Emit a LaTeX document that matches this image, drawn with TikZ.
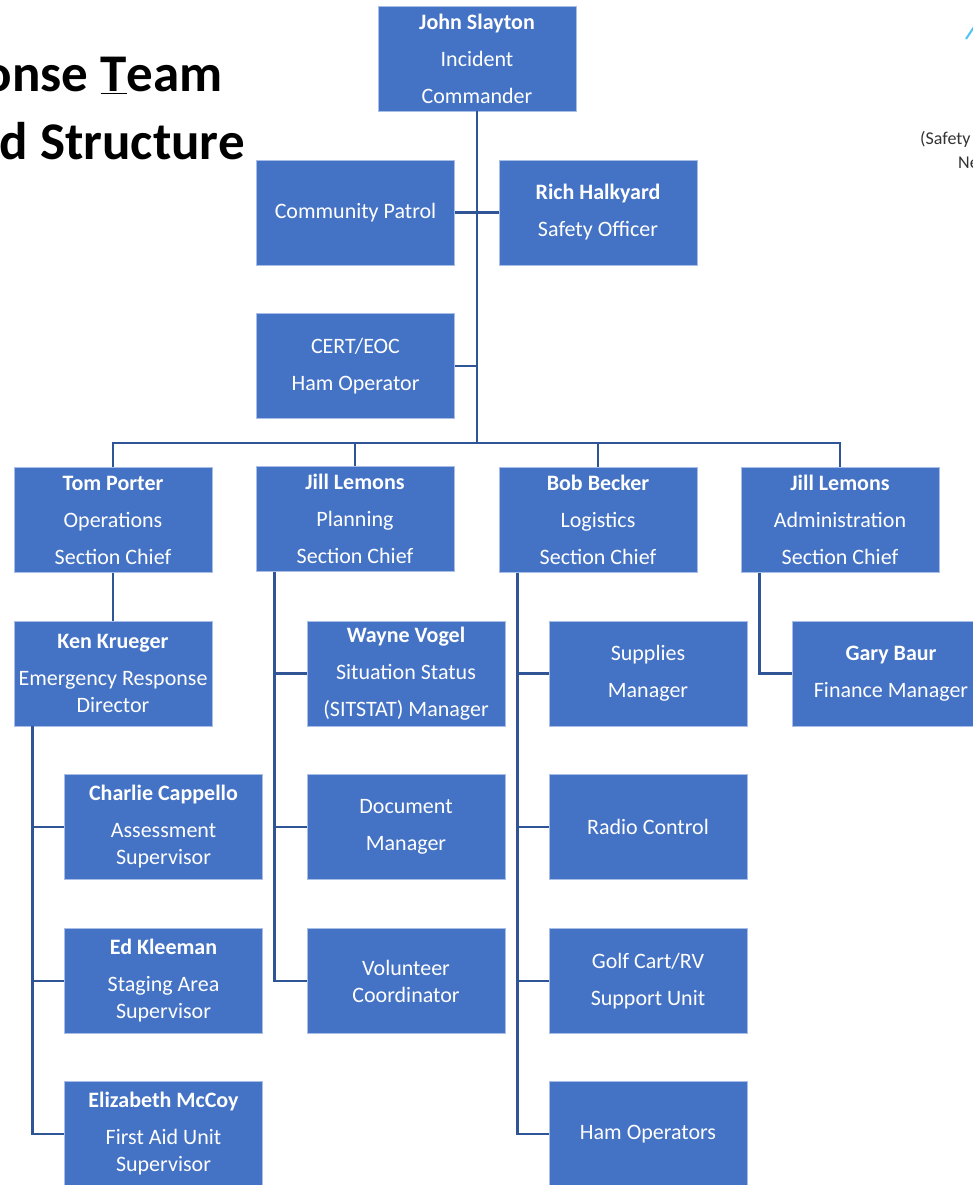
\documentclass[tikz,border=0pt]{standalone}
\usepackage{fontspec}
\setmainfont{Carlito}
\definecolor{boxblue}{HTML}{4472C4}
\definecolor{boxedge}{HTML}{A9BEE6}
\definecolor{linkblue}{HTML}{2F5597}
\definecolor{logocyan}{HTML}{4FC3F0}
\definecolor{graytext}{HTML}{333333}
\newcommand{\boxfont}{\fontsize{22}{27}\selectfont}
\begin{document}
\begin{tikzpicture}[x=1pt,y=-1pt,
  orgbox/.style={fill=boxblue,draw=boxedge,line width=0.8pt,minimum width=198pt,minimum height=105pt,
    inner sep=0pt,align=center,text=white,font=\boxfont},
  link/.style={draw=linkblue,line width=2.4pt},
  titletext/.style={anchor=base east,inner sep=0pt,font=\fontsize{53}{58}\selectfont\bfseries},
  sidetext/.style={anchor=base west,inner sep=0pt,text=graytext,font=\fontsize{18}{20}\selectfont}]
\useasboundingbox (0,0) rectangle (973,1185);
\clip (0,0) rectangle (973,1185);
% title fragments
\node[titletext] (t1) at (223,92) {onse \underline{T}eam};
\node[titletext] (t2) at (245,160) {d Structure};
\node[sidetext] (s1) at (920,145) {(Safety};
\node[sidetext] (s2) at (958,169) {Ne};
\coordinate (lg1) at (966,39);
\coordinate (lg2) at (974,27);
\draw[logocyan,line width=2pt] (lg1) -- (lg2);
% boxes
\node[orgbox] (ic) at (477,58.5) {\textbf{John Slayton}\\[10pt]Incident\\[10pt]Commander};
\node[orgbox] (cp) at (355.5,212.5) {Community Patrol};
\node[orgbox] (so) at (598,212.5) {\textbf{Rich Halkyard}\\[10pt]Safety Officer};
\node[orgbox] (cert) at (355.5,366) {CERT/EOC\\[10pt]Ham Operator};
\node[orgbox] (ops) at (113,520) {\textbf{Tom Porter}\\[10pt]Operations\\[10pt]Section Chief};
\node[orgbox] (plan) at (355,519) {\textbf{Jill Lemons}\\[10pt]Planning\\[10pt]Section Chief};
\node[orgbox] (log) at (598,520) {\textbf{Bob Becker}\\[10pt]Logistics\\[10pt]Section Chief};
\node[orgbox] (adm) at (840,520) {\textbf{Jill Lemons}\\[10pt]Administration\\[10pt]Section Chief};
\node[orgbox] (ken) at (113,673.5) {\textbf{Ken Krueger}\\[10pt]Emergency Response\\Director};
\node[orgbox] (wayne) at (406,673.5) {\textbf{Wayne Vogel}\\[10pt]Situation Status\\[10pt](SITSTAT) Manager};
\node[orgbox] (sup) at (648,673.5) {Supplies\\[10pt]Manager};
\node[orgbox] (gary) at (891,673.5) {\textbf{Gary Baur}\\[10pt]Finance Manager};
\node[orgbox] (charlie) at (163.5,827) {\textbf{Charlie Cappello}\\[10pt]Assessment\\Supervisor};
\node[orgbox] (doc) at (406,827) {Document\\[10pt]Manager};
\node[orgbox] (radio) at (648,827) {Radio Control};
\node[orgbox] (ed) at (163.5,981) {\textbf{Ed Kleeman}\\[10pt]Staging Area\\Supervisor};
\node[orgbox] (vol) at (406,981) {Volunteer\\Coordinator};
\node[orgbox] (golf) at (648,981) {Golf Cart/RV\\[10pt]Support Unit};
\node[orgbox] (liz) at (163.5,1134) {\textbf{Elizabeth McCoy}\\[10pt]First Aid Unit\\Supervisor};
\node[orgbox] (ham) at (648,1134) {Ham Operators};
% connectors
\coordinate (bus) at (477,443);
\draw[link] (ic.south) -- (bus);
\draw[link] (cp.east) -- (so.west);
\draw[link] (cert.east) -- (cert.east -| bus);
\draw[link] (ops.north) -- (ops.north |- bus) -- (adm.north |- bus) -- (adm.north);
\draw[link] (plan.north) -- (plan.north |- bus);
\draw[link] (log.north) -- (log.north |- bus);
\draw[link] (ops.south) -- (ken.north);
% planning
\draw[link] ([xshift=19pt]plan.south west) |- (vol.west);
\draw[link] ([xshift=19pt]plan.south west |- wayne.west) -- (wayne.west);
\draw[link] ([xshift=19pt]plan.south west |- doc.west) -- (doc.west);
% logistics
\draw[link] ([xshift=19pt]log.south west) |- (ham.west);
\draw[link] ([xshift=19pt]log.south west |- sup.west) -- (sup.west);
\draw[link] ([xshift=19pt]log.south west |- radio.west) -- (radio.west);
\draw[link] ([xshift=19pt]log.south west |- golf.west) -- (golf.west);
% administration
\draw[link] ([xshift=19pt]adm.south west) |- (gary.west);
% operations
\draw[link] ([xshift=19pt]ken.south west) |- (liz.west);
\draw[link] ([xshift=19pt]ken.south west |- charlie.west) -- (charlie.west);
\draw[link] ([xshift=19pt]ken.south west |- ed.west) -- (ed.west);
\end{tikzpicture}
\end{document}
